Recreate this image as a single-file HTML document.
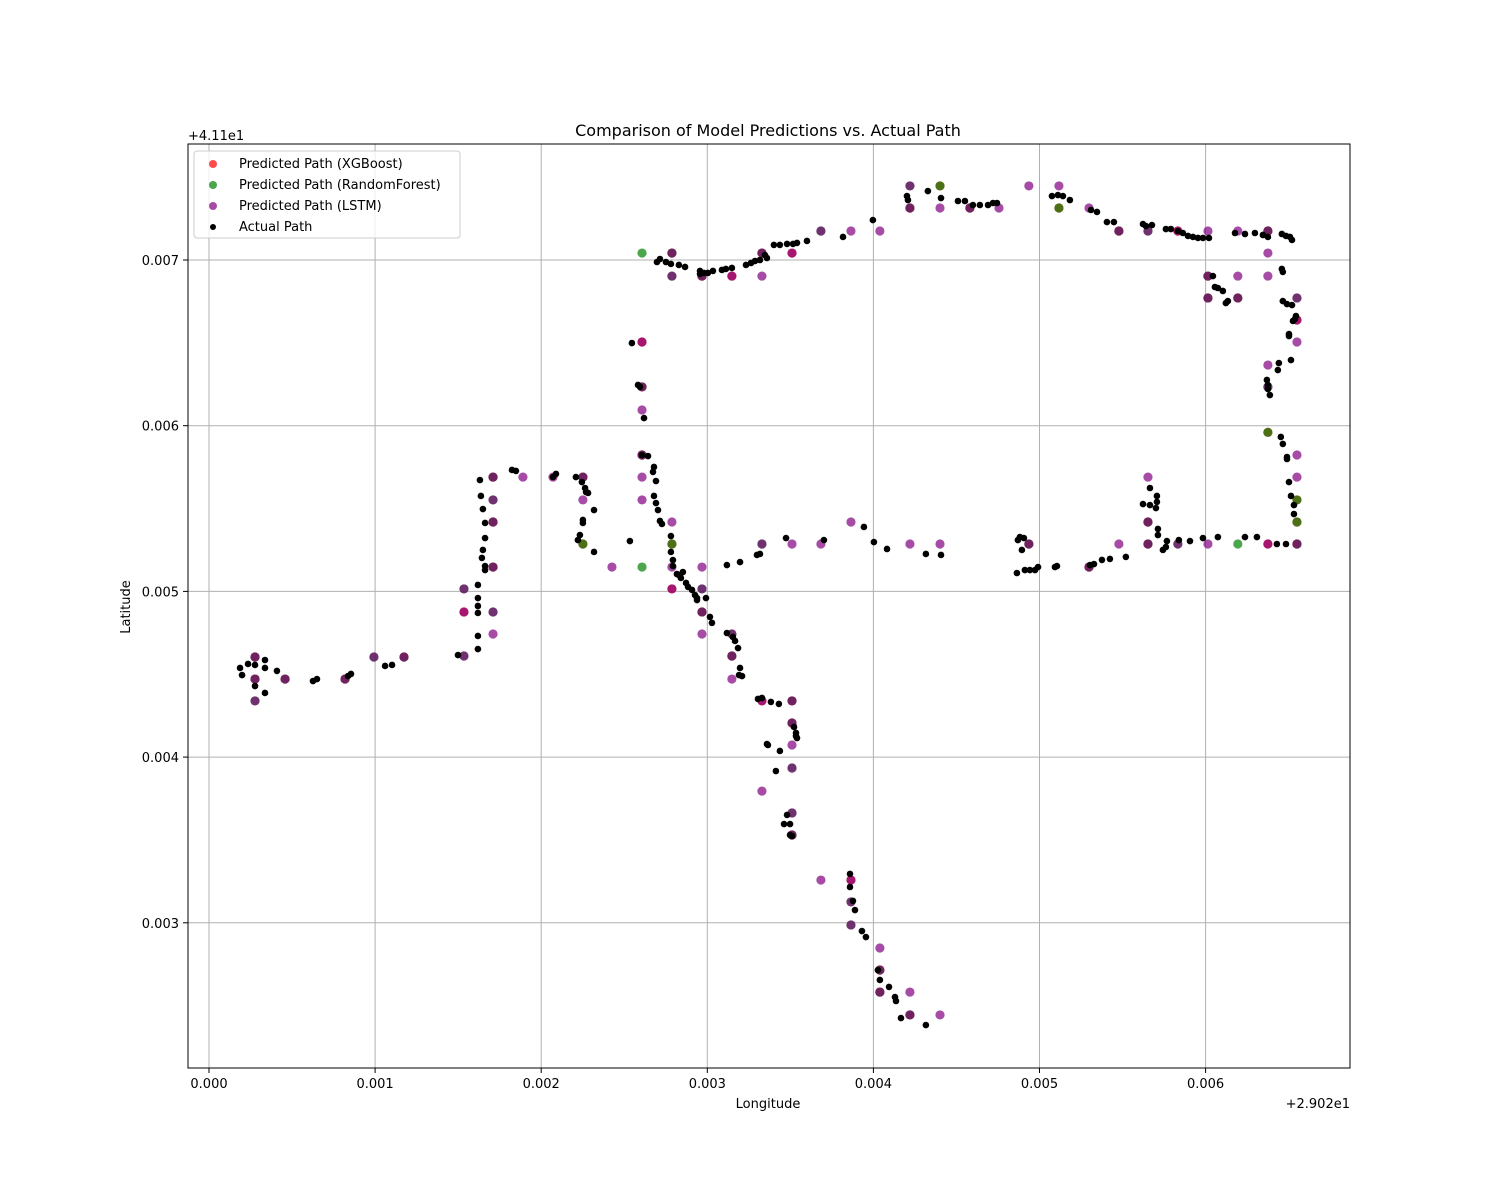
<!DOCTYPE html>
<html><head><meta charset="utf-8"><style>
body{margin:0;background:#fff;}
svg{display:block;font-family:"DejaVu Sans","Liberation Sans",sans-serif;}
</style></head><body>
<svg id="chart" width="1500" height="1200" xmlns="http://www.w3.org/2000/svg"></svg>
<script>
// values are offsets in micro-degrees (1e-6) from +29.02 lon and +41.1 lat
const actualLon=[187,199,235,277,277,337,337,337,409,626,650,837,855,1060,1102,
1499,1619,1619,1619,1619,1619,1619,1643,1649,1649,1662,1662,1662,1662,1631,1637,1824,1848,2089,2071,2209,2245,2233,2221,2251,2251,2264,2270,2282,2318,2318,2534,
2546,2583,2595,2619,2607,2643,2679,2673,2691,2679,2691,2703,2715,2727,2781,2781,2793,2793,2817,2829,2853,2841,2872,2884,2908,2926,2938,2938,2992,3016,3028,3118,3154,3167,3185,3197,3191,3209,3305,3329,3359,3365,3383,3431,3413,3437,3462,3480,3498,3522,3534,3534,3540,3498,3510,
3859,3859,3877,3889,3931,3955,4027,4039,4094,4130,4136,4166,4316,
2697,2715,2751,2781,2829,2866,2956,2956,2980,3004,3034,3088,3112,3148,3233,3263,3287,3317,3347,3359,3401,3437,3480,3516,3540,3600,3817,3997,4202,4208,4328,4407,4509,4551,4599,4641,4690,4720,4744,5075,5111,5141,5183,5310,5346,5406,5448,5623,5641,5677,5761,5791,5833,5863,5894,5924,5954,5984,6020,6044,6056,6074,6104,6122,6134,6177,6237,6297,6345,6375,6459,6484,6508,6520,6459,6465,6465,6490,6520,6526,6544,6538,6502,6502,6514,6435,6441,6387,6375,6369,6375,6453,6465,6490,6490,6502,6514,6532,6532,6429,6484,6309,6237,6074,
5984,5906,5839,5767,5761,5713,5713,5701,5707,5707,5665,5623,5665,5743,5520,5424,5376,5328,5304,5105,5093,4991,4973,4942,4912,4864,4882,4906,4894,4870,4082,4316,4407,4003,3943,3702,3474,3317,3299,3197,3118];
const actualLat=[4538,4495,4562,4556,4429,4586,4538,4387,4520,4459,4471,4489,4502,4550,4556,
4616,4652,4731,4870,4912,4960,5039,5202,5250,5497,5129,5413,5153,5322,5672,5576,5733,5727,5709,5690,5690,5660,5340,5310,5431,5413,5624,5600,5594,5491,5238,5304,
6499,6246,6234,6046,5823,5817,5751,5721,5666,5576,5533,5491,5425,5407,5334,5238,5189,5153,5105,5099,5117,5081,5051,5027,5009,4978,4960,4948,4960,4846,4810,4749,4725,4701,4658,4538,4495,4489,4351,4357,4079,4073,4333,4321,3916,4037,3596,3651,3596,4182,4146,4127,4115,3530,3524,
3295,3216,3132,3077,2950,2914,2715,2655,2613,2552,2528,2425,2383,
6988,7006,6988,6976,6970,6958,6934,6916,6922,6922,6934,6940,6946,6952,6970,6982,6994,7000,7030,7012,7091,7091,7097,7097,7103,7115,7139,7241,7386,7362,7416,7374,7356,7356,7332,7332,7332,7344,7344,7386,7392,7386,7362,7302,7290,7229,7229,7217,7205,7211,7187,7187,7175,7163,7145,7139,7133,7133,7133,6903,6837,6831,6813,6740,6752,7163,7157,7163,7151,7139,7157,7145,7139,7121,6946,6928,6752,6734,6728,6632,6662,6644,6541,6553,6396,6336,6378,6185,6246,6276,6221,5932,5890,5811,5799,5660,5576,5521,5467,5286,5286,5328,5328,5328,
5322,5304,5310,5304,5268,5340,5377,5503,5540,5576,5521,5527,5624,5250,5208,5196,5190,5165,5159,5153,5147,5147,5129,5129,5129,5111,5328,5322,5250,5310,5256,5226,5220,5298,5389,5310,5322,5226,5220,5177,5159];
const lstmLon=[277,277,277,458,819,993,1174,1535,1535,1535,1710,1710,1710,1710,1710,1710,1890,2071,2251,2251,2426,2607,2607,2607,2607,2607,2607,2787,2787,2787,2787,2787,2968,2968,2968,2968,2968,3148,3148,3148,3148,3329,3329,3329,3329,3510,3510,3510,3510,3510,3510,3510,3510,3329,3684,3684,3684,3865,3865,3865,3865,3865,4039,4039,4039,4039,4220,4220,4220,4220,4220,4401,4401,4401,4581,4756,4936,4936,5117,5298,5298,5478,5478,5653,5653,5653,5653,5833,5833,6014,6014,6014,6014,6194,6194,6194,6375,6375,6375,6375,6375,6375,6550,6550,6550,6550,6550,6550];
const lstmLat=[4604,4471,4339,4471,4471,4604,4604,5015,4876,4610,5690,5552,5419,5147,4876,4743,5690,5690,5552,5690,5147,6505,6234,6095,5823,5690,5552,7042,6903,5419,5147,5015,6903,5147,5015,4876,4743,6903,4743,4610,4471,7042,6903,5286,4339,7042,5286,4339,4206,4073,3934,3663,3530,3795,7175,5286,3258,7175,5419,3258,3126,2987,7175,2848,2715,2582,7447,7314,5286,2582,2444,7314,5286,2444,7314,7314,7447,5286,7447,7314,5147,7175,5286,7175,5690,5419,5286,7175,5286,7175,6903,6771,5286,7175,6903,6771,7175,7042,6903,6366,6234,5286,6771,6638,6505,5823,5690,5286];
const rfLon=[277,277,277,458,819,993,1174,1535,1535,1710,1710,1710,1710,1710,2251,2251,2607,2607,2607,2607,2787,2787,2787,2968,2968,2968,3148,3148,3329,3329,3510,3510,3510,3510,3510,3684,3865,3865,4039,4039,4220,4220,4220,4401,4581,4936,5117,5298,5478,5653,5653,5653,5833,6014,6014,6194,6194,6375,6375,6375,6550,6550,6550,6550];
const rfLat=[4604,4471,4339,4471,4471,4604,4604,5015,4610,5690,5552,5419,5147,4876,5286,5690,7042,5147,6234,5823,7042,6903,5286,6903,5015,4876,4743,4610,7042,5286,4339,4206,3934,3663,3530,7175,3126,2987,2715,2582,7314,7447,2444,7447,7314,5286,7314,5147,7175,5419,5286,7175,5286,6903,6771,5286,6771,7175,5960,6234,5552,5419,6771,5286];
const xgbLon=[277,277,458,819,1174,1535,1710,1710,1710,2251,2251,2607,2607,2607,2787,2787,2787,2968,2968,3148,3148,3329,3329,3510,3510,3510,3510,3865,4039,4039,4220,4220,4401,4581,4936,5117,5298,5478,5653,5653,5833,6014,6014,6194,6375,6375,6375,6550,6550,6550,6550];
const xgbLat=[4604,4471,4471,4471,4604,4876,5690,5419,5147,5690,5286,6234,5823,6505,7042,5286,5015,4876,6903,4610,6903,7042,4339,4339,7042,4206,3530,3258,2715,2582,2444,7314,7447,7314,5286,7314,5147,7175,5419,5286,7175,6903,6771,6771,5960,7175,5286,5552,5419,5286,6638];
const xTicks=[0,1000,2000,3000,4000,5000,6000];
const xTickLabels=["0.000","0.001","0.002","0.003","0.004","0.005","0.006"];
const yTicks=[3000,4000,5000,6000,7000];
const yTickLabels=["0.003","0.004","0.005","0.006","0.007"];

const NS="http://www.w3.org/2000/svg";
const svg=document.getElementById('chart');
const L=188,R=1350,T=144,B=1068;
function X(u){return 209+u*0.1661;}
function Y(u){return 260+(7000-u)*0.1657;}
function mk(tag,attrs,parent){const e=document.createElementNS(NS,tag);for(const k in attrs)e.setAttribute(k,attrs[k]);(parent||svg).appendChild(e);return e;}

const grid=mk('g',{});


xTicks.forEach((v,i)=>{
  const x=X(v);
  mk('line',{x1:x,x2:x,y1:T,y2:B,stroke:'#b0b0b0','stroke-width':1},grid);
  mk('line',{x1:x,x2:x,y1:B,y2:B+5,stroke:'#000'},svg);
  const t=mk('text',{x:x,y:B+20,'text-anchor':'middle','font-size':13});
  t.textContent=xTickLabels[i];
  
  
});
yTicks.forEach((v,i)=>{
  const y=Y(v);
  mk('line',{x1:L,x2:R,y1:y,y2:y,stroke:'#b0b0b0','stroke-width':1},grid);
  mk('line',{x1:L-5,x2:L,y1:y,y2:y,stroke:'#000'},svg);
  const t=mk('text',{x:L-9,y:y+5,'text-anchor':'end','font-size':13});
  t.textContent=yTickLabels[i];
  
  
});

function series(lon,lat,r,fill,op,name){
  const g=mk('g',{});
  
  
  for(let i=0;i<lon.length;i++){
    const c=mk('circle',{cx:X(lon[i]),cy:Y(lat[i]),r:r,fill:fill,'fill-opacity':op},g);
    
    
  }
}
series(xgbLon,xgbLat,4.6,'#ff0000',0.7,'xgboost-series');
series(rfLon,rfLat,4.6,'#008000',0.7,'randomforest-series');
series(lstmLon,lstmLat,4.6,'#800080',0.7,'lstm-series');
series(actualLon,actualLat,3.3,'#000000',1,'actual-series');

const frame=mk('rect',{x:L,y:T,width:R-L,height:B-T,fill:'none',stroke:'#000','stroke-width':1});



function txt(x,y,s,size,anchor,name,rot){
  const t=mk('text',{x:x,y:y,'font-size':size,'text-anchor':anchor});
  if(rot)t.setAttribute('transform','rotate(-90 '+x+' '+y+')');
  t.textContent=s;
  
  
}
txt(768,136,'Comparison of Model Predictions vs. Actual Path',16,'middle','chart-title');
txt(768,1108,'Longitude',13,'middle','x-axis-title');
txt(130,607,'Latitude',13,'middle','y-axis-title',true);
txt(188,140,'+4.11e1',13,'start','y-offset-label');
txt(1350,1108,'+2.902e1',13,'end','x-offset-label');

const lg=mk('g',{});


mk('rect',{x:194,y:151,width:266,height:87,rx:3,fill:'#fff','fill-opacity':0.8,stroke:'#ccc'},lg);
const entries=[['Predicted Path (XGBoost)','#ff0000',0.7,4],['Predicted Path (RandomForest)','#008000',0.7,4],['Predicted Path (LSTM)','#800080',0.7,4],['Actual Path','#000',1,3]];
entries.forEach((e,i)=>{
  const y=163+i*21;
  const c=mk('circle',{cx:213,cy:y+1,r:e[3],fill:e[1],'fill-opacity':e[2]},lg);
  
  
  const t=mk('text',{x:239,y:y+5,'font-size':13},lg);
  t.textContent=e[0];
  
  
});
</script>
</body></html>
